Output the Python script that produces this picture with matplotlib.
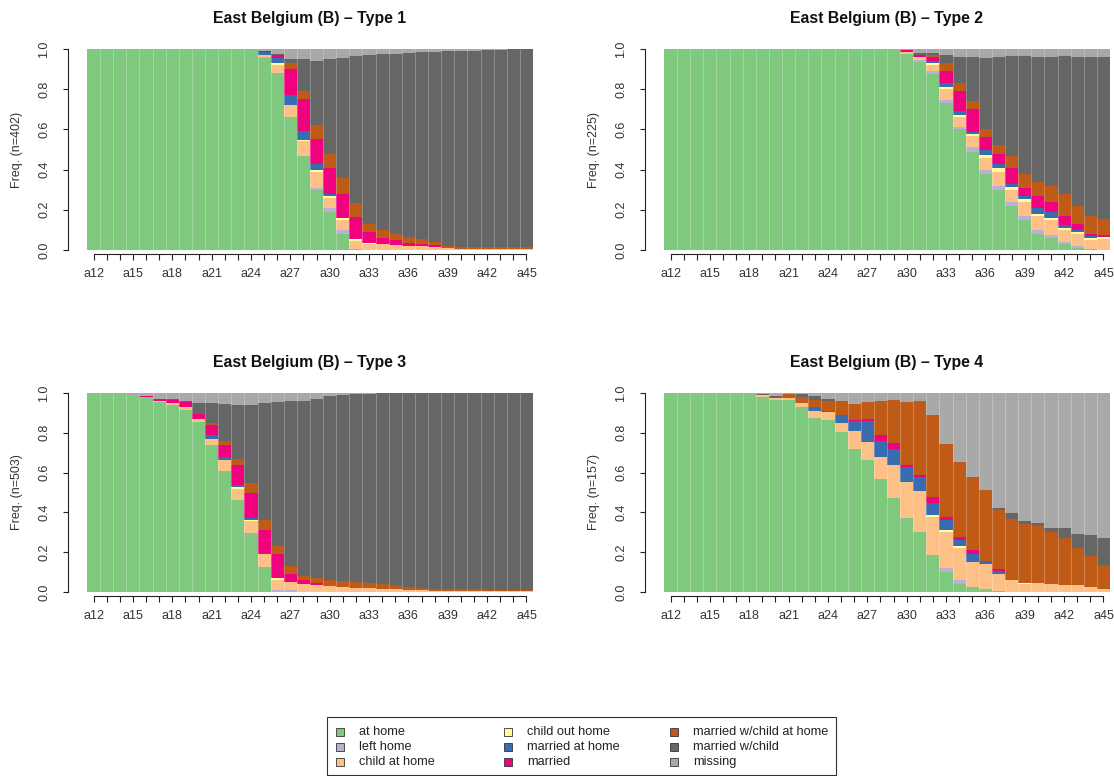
import matplotlib
matplotlib.use('Agg')
import matplotlib.pyplot as plt
from matplotlib.patches import Rectangle

plt.rcParams['font.family'] = ['Liberation Sans', 'DejaVu Sans']

# ---------------- data ----------------
ages = ['a12', 'a13', 'a14', 'a15', 'a16', 'a17', 'a18', 'a19', 'a20', 'a21',
        'a22', 'a23', 'a24', 'a25', 'a26', 'a27', 'a28', 'a29', 'a30', 'a31',
        'a32', 'a33', 'a34', 'a35', 'a36', 'a37', 'a38', 'a39', 'a40', 'a41',
        'a42', 'a43', 'a44', 'a45']

states = ['at home', 'left home', 'child at home', 'child out home',
          'married at home', 'married', 'married w/child at home',
          'married w/child', 'missing']
colors = ['#7FC97F', '#BEAED4', '#FDC086', '#FFFF99', '#386CB0',
          '#F0027F', '#BF5B17', '#666666', '#A9A9A9']

titles = ['East Belgium (B) \u2013 Type 1', 'East Belgium (B) \u2013 Type 2',
          'East Belgium (B) \u2013 Type 3', 'East Belgium (B) \u2013 Type 4']
n_obs = [402, 225, 503, 157]

# Type 1
t1_at_home = [1, 1, 1, 1, 1, 1, 1, 1, 1, 1,
              1, 1, .995, .955, .88, .66, .47, .30, .19, .08,
              .005, 0, 0, 0, 0, 0, 0, 0, 0, 0,
              0, 0, 0, 0]
t1_left_home = [0, 0, 0, 0, 0, 0, 0, 0, 0, 0,
                0, 0, 0, .005, 0, 0, 0, .01, .02, .02,
                0, 0, 0, 0, 0, 0, 0, 0, 0, 0,
                0, 0, 0, 0]
t1_child_home = [0, 0, 0, 0, 0, 0, 0, 0, 0, 0,
                 0, 0, 0, .01, .04, .06, .07, .08, .05, .05,
                 .04, .03, .03, .025, .02, .02, .015, .01, .005, .005,
                 .005, .005, .005, .005]
t1_child_out = [0, 0, 0, 0, 0, 0, 0, 0, 0, 0,
                0, 0, 0, 0, .01, 0, .005, .01, .01, .01,
                .01, .005, 0, 0, 0, 0, 0, 0, 0, 0,
                0, 0, 0, 0]
t1_married_home = [0, 0, 0, 0, 0, 0, 0, 0, 0, 0,
                   0, 0, 0, .015, .025, .05, .045, .03, .01, 0,
                   0, 0, 0, 0, 0, 0, 0, 0, 0, 0,
                   0, 0, 0, 0]
t1_married = [0, 0, 0, 0, 0, 0, 0, 0, 0, 0,
              0, 0, 0, .005, .015, .13, .16, .12, .13, .12,
              .11, .055, .03, .025, .015, .01, .01, 0, 0, 0,
              0, 0, 0, 0]
t1_mwc_home = [0, 0, 0, 0, 0, 0, 0, 0, 0, 0,
               0, 0, 0, 0, 0, .03, .04, .07, .07, .08,
               .07, .04, .04, .03, .03, .025, .015, .01, .01, .01,
               .01, .01, .01, .01]
t1_mwc = [0, 0, 0, 0, 0, 0, 0, 0, 0, 0,
          0, 0, 0, 0, .005, .02, .16, .32, .47, .595,
          .73, .84, .875, .895, .915, .93, .945, .97, .975, .975,
          .98, .98, .985, .985]
t1_missing = [0, 0, 0, 0, 0, 0, 0, 0, 0, 0,
              0, 0, .005, .01, .025, .05, .05, .06, .05, .045,
              .035, .03, .025, .025, .02, .015, .015, .01, .01, .01,
              .005, .005, 0, 0]

# Type 2
t2_at_home = [1, 1, 1, 1, 1, 1, 1, 1, 1, 1,
              1, 1, 1, 1, 1, 1, 1, 1, .975, .935,
              .875, .73, .60, .49, .38, .30, .22, .15, .08, .06,
              .03, .01, .005, 0]
t2_left_home = [0, 0, 0, 0, 0, 0, 0, 0, 0, 0,
                0, 0, 0, 0, 0, 0, 0, 0, 0, .01,
                .015, .015, .01, .02, .02, .02, .02, .02, .02, .015,
                .01, .01, 0, 0]
t2_child_home = [0, 0, 0, 0, 0, 0, 0, 0, 0, 0,
                 0, 0, 0, 0, 0, 0, 0, 0, .01, .015,
                 .03, .055, .05, .055, .06, .07, .06, .07, .07, .075,
                 .06, .06, .045, .055]
t2_child_out = [0, 0, 0, 0, 0, 0, 0, 0, 0, 0,
                0, 0, 0, 0, 0, 0, 0, 0, 0, 0,
                .01, .01, .01, .01, .015, .02, .015, .015, .01, .01,
                .01, .01, .01, .01]
t2_married_home = [0, 0, 0, 0, 0, 0, 0, 0, 0, 0,
                   0, 0, 0, 0, 0, 0, 0, 0, 0, 0,
                   .01, .02, .02, .01, .025, .02, .015, .015, .03, .03,
                   .015, .01, .01, 0]
t2_married = [0, 0, 0, 0, 0, 0, 0, 0, 0, 0,
              0, 0, 0, 0, 0, 0, 0, 0, .01, .01,
              .02, .06, .10, .115, .06, .05, .08, .04, .06, .05,
              .045, .03, .01, .01]
t2_mwc_home = [0, 0, 0, 0, 0, 0, 0, 0, 0, 0,
               0, 0, 0, 0, 0, 0, 0, 0, 0, 0,
               .01, .04, .04, .04, .04, .04, .06, .07, .07, .08,
               .11, .09, .09, .08]
t2_mwc = [0, 0, 0, 0, 0, 0, 0, 0, 0, 0,
          0, 0, 0, 0, 0, 0, 0, 0, 0, .01,
          .01, .04, .13, .22, .355, .44, .495, .585, .62, .64,
          .685, .74, .79, .805]
t2_missing = [0, 0, 0, 0, 0, 0, 0, 0, 0, 0,
              0, 0, 0, 0, 0, 0, 0, 0, .005, .02,
              .02, .03, .04, .04, .045, .04, .035, .035, .04, .04,
              .035, .04, .04, .04]

# Type 3
t3_at_home = [1, .998, .995, .99, .98, .955, .94, .915, .855, .74,
              .61, .46, .295, .125, 0, 0, 0, 0, 0, 0,
              0, 0, 0, 0, 0, 0, 0, 0, 0, 0,
              0, 0, 0, 0]
t3_left_home = [0, 0, 0, 0, 0, 0, 0, 0, 0, 0,
                0, 0, 0, 0, .01, .01, 0, 0, 0, 0,
                0, 0, 0, 0, 0, 0, 0, 0, 0, 0,
                0, 0, 0, 0]
t3_child_home = [0, 0, 0, 0, 0, .005, .01, .015, .015, .03,
                 .055, .06, .06, .065, .05, .04, .04, .035, .03, .025,
                 .02, .02, .015, .015, .01, .01, .005, .005, .005, .005,
                 .005, .005, .005, .005]
t3_child_out = [0, 0, 0, 0, 0, 0, 0, 0, 0, 0,
                0, .01, .005, 0, .01, 0, 0, 0, 0, 0,
                0, 0, 0, 0, 0, 0, 0, 0, 0, 0,
                0, 0, 0, 0]
t3_married_home = [0, 0, 0, 0, 0, 0, 0, 0, 0, .02,
                   .015, .01, .01, 0, 0, 0, 0, 0, 0, 0,
                   0, 0, 0, 0, 0, 0, 0, 0, 0, 0,
                   0, 0, 0, 0]
t3_married = [0, 0, 0, 0, .005, .01, .015, .025, .025, .05,
              .06, .10, .13, .12, .12, .04, .02, .01, 0, 0,
              0, 0, 0, 0, 0, 0, 0, 0, 0, 0,
              0, 0, 0, 0]
t3_mwc_home = [0, 0, 0, 0, 0, 0, 0, 0, 0, .01,
               .02, .03, .05, .05, .04, .04, .02, .025, .03, .03,
               .03, .025, .025, .02, .015, .01, .01, .01, .01, .01,
               .005, .005, .005, .005]
t3_mwc = [0, 0, 0, 0, 0, 0, .005, .005, .055, .10,
          .185, .27, .39, .59, .725, .83, .88, .90, .925, .935,
          .945, .95, .96, .965, .975, .98, .985, .985, .985, .985,
          .99, .99, .99, .99]
t3_missing = [0, .002, .005, .01, .015, .03, .03, .04, .05, .05,
              .055, .06, .06, .05, .045, .04, .04, .03, .015, .01,
              .005, .005, 0, 0, 0, 0, 0, 0, 0, 0,
              0, 0, 0, 0]

# Type 4
t4_at_home = [1, 1, 1, 1, 1, .998, 1, .98, .965, .965,
              .93, .875, .865, .805, .72, .665, .57, .47, .37, .30,
              .185, .10, .04, .025, .015, .005, 0, 0, 0, 0,
              0, 0, 0, 0]
t4_left_home = [0, 0, 0, 0, 0, 0, 0, 0, 0, 0,
                0, 0, 0, 0, 0, 0, 0, 0, 0, 0,
                0, .02, .02, 0, 0, 0, 0, 0, 0, 0,
                0, 0, 0, 0]
t4_child_home = [0, 0, 0, 0, 0, 0, 0, .01, .01, .01,
                 .02, .035, .04, .045, .09, .09, .11, .17, .185, .21,
                 .19, .18, .16, .125, .125, .085, .06, .04, .045, .04,
                 .035, .035, .025, .015]
t4_child_out = [0, 0, 0, 0, 0, 0, 0, 0, 0, 0,
                0, 0, 0, 0, 0, 0, 0, 0, 0, 0,
                .01, .01, .01, 0, 0, 0, 0, .005, 0, 0,
                0, 0, 0, 0]
t4_married_home = [0, 0, 0, 0, 0, 0, 0, 0, 0, 0,
                   0, .02, .005, .04, .05, .105, .08, .08, .075, .07,
                   .06, .05, .03, .04, .015, .015, 0, 0, 0, 0,
                   0, 0, 0, 0]
t4_married = [0, 0, 0, 0, 0, 0, 0, 0, 0, 0,
              0, 0, 0, 0, .005, .01, .03, .03, .01, .01,
              .03, .015, .015, .02, 0, .01, 0, 0, 0, 0,
              0, 0, 0, 0]
t4_mwc_home = [0, 0, 0, 0, 0, 0, 0, 0, 0, .02,
               .03, .035, .05, .07, .08, .085, .17, .215, .315, .37,
               .415, .37, .38, .37, .36, .295, .305, .295, .285, .26,
               .235, .185, .155, .12]
t4_mwc = [0, 0, 0, 0, 0, 0, 0, .005, .01, 0,
          .015, .02, .01, 0, 0, 0, 0, 0, 0, 0,
          0, 0, 0, 0, 0, .01, .03, .015, .015, .02,
          .05, .07, .105, .135]
t4_missing = [0, 0, 0, 0, 0, .002, 0, .005, .015, .005,
              .005, .015, .03, .04, .055, .045, .04, .035, .045, .04,
              .11, .255, .345, .42, .485, .58, .605, .645, .655, .68,
              .68, .71, .715, .73]

type1 = [t1_at_home, t1_left_home, t1_child_home, t1_child_out, t1_married_home,
         t1_married, t1_mwc_home, t1_mwc, t1_missing]
type2 = [t2_at_home, t2_left_home, t2_child_home, t2_child_out, t2_married_home,
         t2_married, t2_mwc_home, t2_mwc, t2_missing]
type3 = [t3_at_home, t3_left_home, t3_child_home, t3_child_out, t3_married_home,
         t3_married, t3_mwc_home, t3_mwc, t3_missing]
type4 = [t4_at_home, t4_left_home, t4_child_home, t4_child_out, t4_married_home,
         t4_married, t4_mwc_home, t4_mwc, t4_missing]
panels_data = [type1, type2, type3, type4]

for pdata in panels_data:
    for row in pdata:
        assert len(row) == len(ages), len(row)

# ---------------- layout (pixels) ----------------
W, H = 1114, 776
# (left, right, y of 1.0, y of 0.0)
boxes = [(87, 533, 49, 250), (664, 1110, 49, 250),
         (87, 533, 393, 592), (664, 1110, 393, 592)]
title_y = [18, 18, 363, 363]

fig = plt.figure(figsize=(W / 100, H / 100), dpi=100)
fig.patch.set_facecolor('white')

PX = 0.72  # points per pixel
TICK_FS = 9

overlay = fig.add_axes([0, 0, 1, 1])
overlay.set_xlim(0, W)
overlay.set_ylim(H, 0)
overlay.axis('off')
overlay.set_zorder(5)
overlay.patch.set_alpha(0)

x = list(range(len(ages)))

for k, (pdata, (l, r, t, b)) in enumerate(zip(panels_data, boxes)):
    ax = fig.add_axes([l / W, (H - b) / H, (r - l) / W, (b - t) / H])
    bottom = [0.0] * len(ages)
    for s, row in enumerate(pdata):
        ax.bar(x, row, width=1.0, bottom=bottom, align='edge',
               color=colors[s], linewidth=0)
        bottom = [bb + v for bb, v in zip(bottom, row)]
    ax.vlines(range(1, len(ages)), 0, 1, colors='white', alpha=0.3, lw=0.6)
    ax.set_xlim(0, len(ages))
    ax.set_ylim(0, 1)
    for sp in ['top', 'right']:
        ax.spines[sp].set_visible(False)
    ax.spines['left'].set_position(('outward', 19 * PX))
    ax.spines['bottom'].set_position(('outward', 4 * PX))
    ax.spines['left'].set_bounds(0, 1)
    ax.spines['bottom'].set_bounds(0.5, len(ages) - 0.5)
    for sp in ['left', 'bottom']:
        ax.spines[sp].set_linewidth(0.8)
        ax.spines[sp].set_color('#222222')
    ax.set_yticks([0, 0.2, 0.4, 0.6, 0.8, 1.0])
    ax.set_yticklabels(['0.0', '0.2', '0.4', '0.6', '0.8', '1.0'],
                       rotation=90, va='center')
    ax.set_xticks([i + 0.5 for i in x])
    ax.set_xticklabels([a if i % 3 == 0 else '' for i, a in enumerate(ages)])
    ax.tick_params(axis='y', length=5 * PX, width=0.8, pad=9,
                   labelsize=TICK_FS, colors='#222222')
    ax.tick_params(axis='x', length=6 * PX, width=0.8, pad=6,
                   labelsize=TICK_FS, colors='#222222')
    for lab in ax.get_yticklabels() + ax.get_xticklabels():
        lab.set_color('#333333')
    # title and y label
    overlay.text((l + r) / 2, title_y[k], titles[k], ha='center', va='center',
                 fontsize=11.4, fontweight='bold', color='#111111')
    overlay.text(l - 70, (t + b) / 2, 'Freq. (n=%d)' % n_obs[k], rotation=90,
                 ha='center', va='center', fontsize=TICK_FS, color='#333333')

# ---------------- legend ----------------
overlay.add_patch(Rectangle((327, 717), 836 - 327, 775 - 717, fill=False,
                            edgecolor='#333333', linewidth=0.8))
col_x = [340, 508, 674]
row_y = [732, 747, 762]
sq = 8
for i, (name, c) in enumerate(zip(states, colors)):
    cx = col_x[i // 3]
    cy = row_y[i % 3]
    overlay.add_patch(Rectangle((cx - sq / 2, cy - sq / 2), sq, sq,
                                facecolor=c, edgecolor='#333333', linewidth=0.6))
    overlay.text(cx + 19, cy, name, ha='left', va='center', fontsize=9.2,
                 color='#222222')

fig.savefig('out.png', dpi=100, facecolor='white')
